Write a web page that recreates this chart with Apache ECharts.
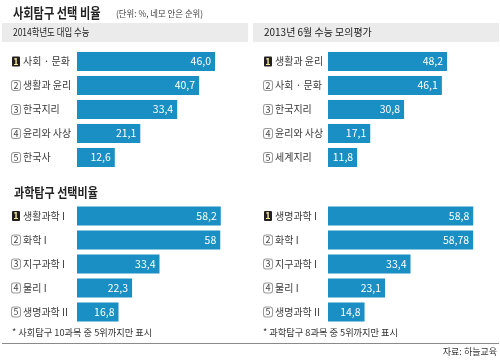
<!DOCTYPE html>
<html><head><meta charset="utf-8">
<script src="https://cdn.jsdelivr.net/npm/echarts@6/dist/echarts.min.js"></script>
<style>html,body{margin:0;padding:0;background:#fff}#c{width:500px;height:361px}</style>
</head><body><div id="c"></div>
<script>
// Data
const catsTL = ['사회 · 문화', '생활과 윤리', '한국지리', '윤리와 사상', '한국사'];
const valsTL = [46.0, 40.7, 33.4, 21.1, 12.6];
const labsTL = ['46,0', '40,7', '33,4', '21,1', '12,6'];

const catsTR = ['생활과 윤리', '사회 · 문화', '한국지리', '윤리와 사상', '세계지리'];
const valsTR = [48.2, 46.1, 30.8, 17.1, 11.8];
const labsTR = ['48,2', '46,1', '30,8', '17,1', '11,8'];

const catsBL = ['생활과학 I', '화학 I', '지구과학 I', '물리 I', '생명과학 II'];
const valsBL = [58.2, 58, 33.4, 22.3, 16.8];
const labsBL = ['58,2', '58', '33,4', '22,3', '16,8'];

const catsBR = ['생명과학 I', '화학 I', '지구과학 I', '물리 I', '생명과학 II'];
const valsBR = [58.8, 58.78, 33.4, 23.1, 14.8];
const labsBR = ['58,8', '58,78', '33,4', '23,1', '14,8'];

const FONT = '"Noto Sans CJK KR", "Noto Sans", sans-serif';
const BAR = '#1a8fc3';

const chart = echarts.init(document.getElementById('c'), null, {renderer: 'canvas'});

const panels = [
  {cats: catsTL, vals: valsTL, labs: labsTL, left: 77, top: 49.5, width: 150, max: 50},
  {cats: catsTR, vals: valsTR, labs: labsTR, left: 328, top: 49.5, width: 148.2, max: 60},
  {cats: catsBL, vals: valsBL, labs: labsBL, left: 77, top: 204, width: 148.2, max: 60},
  {cats: catsBR, vals: valsBR, labs: labsBR, left: 328, top: 204, width: 148.2, max: 60}
];

const rich = {
  r1: {backgroundColor: '#231f20', color: '#f3ea9a', width: 8, height: 10, lineHeight: 10, align: 'center', fontSize: 9, fontWeight: 'bold', fontFamily: FONT, borderRadius: 1},
  r: {backgroundColor: '#fff', color: '#444', borderColor: '#9a9a9a', borderWidth: 1, borderRadius: 2, width: 8, height: 9, lineHeight: 9, align: 'center', fontSize: 9, fontFamily: FONT},
  n: {color: '#3a3a3a', fontSize: 10, fontFamily: FONT, padding: [0, 0, 0, 3]}
};

const grids = [], xAxes = [], yAxes = [], series = [];
panels.forEach((p, i) => {
  grids.push({left: p.left, top: p.top, width: p.width, height: 120, containLabel: false});
  xAxes.push({type: 'value', gridIndex: i, min: 0, max: p.max, show: false});
  yAxes.push({
    type: 'category', gridIndex: i, data: p.cats, inverse: true,
    axisLine: {show: false}, axisTick: {show: false}, splitLine: {show: false},
    axisLabel: {
      align: 'left', margin: p.left - (i % 2 === 0 ? 12 : 264),
      formatter: (v, idx) => (idx === 0 ? '{r1|1}' : '{r|' + (idx + 1) + '}') + '{n|' + v + '}',
      rich: rich
    }
  });
  series.push({
    type: 'bar', xAxisIndex: i, yAxisIndex: i, data: p.vals, barWidth: 19,
    itemStyle: {color: BAR},
    label: {show: true, position: 'insideRight', distance: 4, color: '#fff', fontSize: 10.5, fontFamily: FONT,
      formatter: (d) => p.labs[d.dataIndex]},
    silent: true, animation: false
  });
});

chart.setOption({
  animation: false,
  grid: grids, xAxis: xAxes, yAxis: yAxes, series: series,
  graphic: [
    {type: 'rect', shape: {x: 2, y: 23, width: 246, height: 19}, style: {fill: '#ebebeb'}},
    {type: 'rect', shape: {x: 253, y: 23, width: 246, height: 19}, style: {fill: '#ebebeb'}},
    {type: 'text', x: 13, y: 13, scaleX: 0.8, style: {text: '사회탐구 선택 비율', font: 'bold 14px ' + FONT, fill: '#222', verticalAlign: 'middle'}},
    {type: 'text', x: 116, y: 14, scaleX: 0.93, style: {text: '(단위: %, 네모 안은 순위)', font: '9px ' + FONT, fill: '#444', verticalAlign: 'middle'}},
    {type: 'text', x: 13, y: 32.5, scaleX: 0.8, style: {text: '2014학년도 대입 수능', font: '10.5px ' + FONT, fill: '#222', verticalAlign: 'middle'}},
    {type: 'text', x: 264, y: 32.5, scaleX: 0.95, style: {text: '2013년 6월 수능 모의평가', font: '10.5px ' + FONT, fill: '#222', verticalAlign: 'middle'}},
    {type: 'text', x: 14, y: 192, scaleX: 0.85, style: {text: '과학탐구 선택비율', font: 'bold 13px ' + FONT, fill: '#222', verticalAlign: 'middle'}},
    {type: 'text', x: 12, y: 332, scaleX: 0.97, style: {text: '* 사회탐구 10과목 중 5위까지만 표시', font: '9.5px ' + FONT, fill: '#333', verticalAlign: 'middle'}},
    {type: 'text', x: 263, y: 332, scaleX: 0.97, style: {text: '* 과학탐구 8과목 중 5위까지만 표시', font: '9.5px ' + FONT, fill: '#333', verticalAlign: 'middle'}},
    {type: 'line', shape: {x1: 2, y1: 343.5, x2: 499, y2: 343.5}, style: {stroke: '#8a8a8a', lineWidth: 1}},
    {type: 'text', x: 497, y: 352, style: {text: '자료: 하늘교육', font: '9px ' + FONT, fill: '#333', align: 'right', verticalAlign: 'middle'}}
  ]
});
</script></body></html>
